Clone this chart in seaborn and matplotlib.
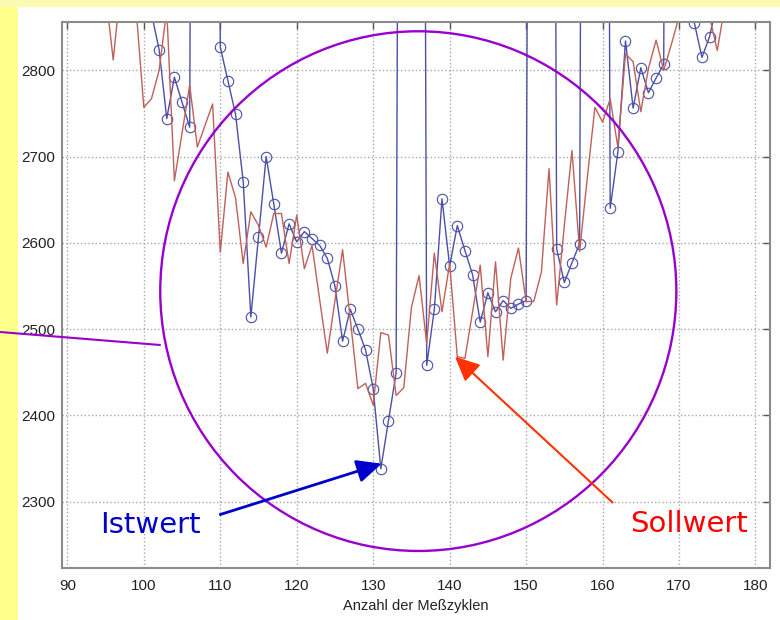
import matplotlib
matplotlib.use("Agg")
import pandas as pd
import matplotlib.pyplot as plt
import seaborn as sns
from matplotlib.patches import Ellipse, Rectangle
from matplotlib.lines import Line2D

# Sollwert (rote Linie), Zyklen 95..176
zyklen_soll = list(range(95, 177))
sollwert = [2890, 2812, 2900, 2920, 2870, 2757, 2767, 2800, 2870, 2672,
            2727, 2783, 2711, 2736, 2761, 2589, 2682, 2652, 2576, 2636,
            2620, 2595, 2634, 2634, 2576, 2632, 2570, 2597, 2534, 2472,
            2533, 2592, 2512, 2431, 2437, 2412, 2496, 2493, 2423, 2432,
            2525, 2562, 2483, 2588, 2520, 2576, 2468, 2466, 2520, 2574,
            2468, 2578, 2464, 2559, 2594, 2532, 2532, 2566, 2686, 2528,
            2620, 2707, 2590, 2675, 2757, 2740, 2767, 2711, 2819, 2810,
            2752, 2802, 2835, 2800, 2830, 2862, 2885, 2857, 2880, 2862,
            2823, 2875]

# Istwert (blaue Linie mit Kreisen), Zyklen 100..175, Ausreisser weit oberhalb
zyklen_ist = list(range(100, 176))
istwert = [2920, 2866, 2824, 2744, 2792, 2763, 2734, 5000, 5000, 5000,
           2827, 2788, 2749, 2671, 2514, 2607, 2700, 2645, 2588, 2622,
           2601, 2613, 2605, 2597, 2582, 2550, 2486, 2523, 2500, 2476,
           2431, 2338, 2394, 2449, 5000, 5000, 5000, 2458, 2523, 2651,
           2573, 2620, 2591, 2563, 2508, 2542, 2520, 2533, 2524, 2529,
           2533, 5000, 5000, 5000, 2593, 2554, 2577, 2599, 5000, 5000,
           5000, 2640, 2705, 2834, 2756, 2803, 2774, 2791, 2807, 5000,
           5000, 5000, 2855, 2815, 2839, 2880]

x_ticks = [90, 100, 110, 120, 130, 140, 150, 160, 170, 180]
y_ticks = [2300, 2400, 2500, 2600, 2700, 2800]

sns.set_theme(style="whitegrid")
plt.rcParams['font.family'] = ['Liberation Sans', 'DejaVu Sans']

fig = plt.figure(figsize=(7.8, 6.2), dpi=100, facecolor="white")

# gelber Folienrand
fig.patches.append(Rectangle((0, 0), 18 / 780, 1, transform=fig.transFigure,
                             facecolor="#ffff8c", edgecolor="none", zorder=0))
fig.patches.append(Rectangle((0, 1 - 7 / 620), 1, 7 / 620, transform=fig.transFigure,
                             facecolor="#fcfbb4", edgecolor="none", zorder=0))

ax = fig.add_axes([62 / 780, 1 - 568 / 620, (770 - 62) / 780, (568 - 22) / 620])
ax.set_facecolor("white")

df_ist = pd.DataFrame({"Zyklus": zyklen_ist, "Wert": istwert})
df_soll = pd.DataFrame({"Zyklus": zyklen_soll, "Wert": sollwert})

sns.lineplot(data=df_ist, x="Zyklus", y="Wert", ax=ax, color="#4b4fa8", lw=1.0,
             marker="o", markersize=7.5, markerfacecolor="none",
             markeredgecolor="#4b4fa8", markeredgewidth=0.8,
             estimator=None, sort=False)
sns.lineplot(data=df_soll, x="Zyklus", y="Wert", ax=ax, color="#c0605a", lw=1.0,
             estimator=None, sort=False)

ax.set_xlim(89.3, 181.9)
ax.set_ylim(2223, 2856)
ax.set_xticks(x_ticks)
ax.set_yticks(y_ticks)
ax.grid(True, linestyle=":", color="#a8a8a8", lw=1.0)
ax.tick_params(direction="in", top=True, right=True, length=5, width=1,
               color="#555555", labelsize=11, labelcolor="#222222")
ax.tick_params(axis="x", pad=8)
ax.tick_params(axis="y", pad=5)
for sp in ax.spines.values():
    sp.set_color("#8c8c8c")
    sp.set_linewidth(1.5)
ax.set_xlabel("Anzahl der Meßzyklen", fontsize=10.5, color="#222222", labelpad=4)
ax.set_ylabel("")

# Markierung
ax.add_patch(Ellipse((135.9, 2544), 67.5, 602.5, fill=False,
                     edgecolor="#9900cc", lw=1.7, zorder=5))
fig.lines.append(Line2D([0, 160 / 780], [1 - 332 / 620, 1 - 345 / 620],
                        transform=fig.transFigure, color="#9900cc", lw=1.5))

ax.annotate("", xy=(131.1, 2344), xytext=(110.0, 2285),
            arrowprops=dict(arrowstyle="-|>,head_length=0.75,head_width=0.35",
                            color="#0000cc", lw=2, mutation_scale=20,
                            shrinkA=0, shrinkB=0),
            annotation_clip=False, zorder=6)
ax.annotate("", xy=(140.7, 2468), xytext=(161.3, 2299),
            arrowprops=dict(arrowstyle="-|>,head_length=0.75,head_width=0.35",
                            color="#ff3300", lw=1.5, mutation_scale=20,
                            shrinkA=0, shrinkB=0),
            annotation_clip=False, zorder=6)

ax.text(100.85, 2263.5, "Istwert", ha="center", va="baseline", fontsize=21,
        color="#0000cc", family=["DejaVu Sans"])
ax.text(171.27, 2264.6, "Sollwert", ha="center", va="baseline", fontsize=21,
        color="#ff0000", family=["DejaVu Sans"])

fig.savefig("out.png", dpi=100, facecolor=fig.get_facecolor())
